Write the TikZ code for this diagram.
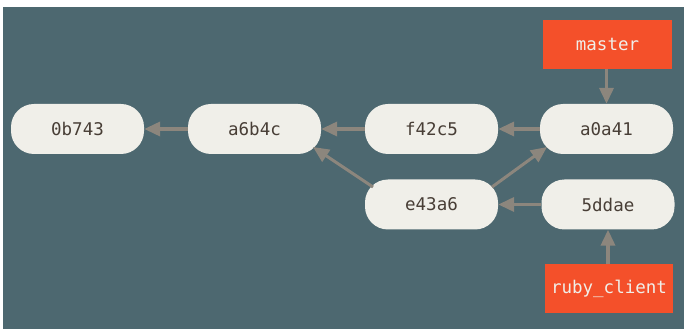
\documentclass[tikz,border=0pt]{standalone}
\usepackage{fontspec}
\setmonofont{DejaVu Sans Mono}
\usetikzlibrary{arrows.meta}
\definecolor{bgteal}{RGB}{77,104,112}
\definecolor{commitfill}{RGB}{240,239,233}
\definecolor{committext}{RGB}{72,62,54}
\definecolor{branchorange}{RGB}{244,80,42}
\definecolor{arrowgray}{RGB}{140,134,125}
\tikzset{
  commit/.style={draw=none, fill=commitfill, rounded corners=23pt, minimum width=133pt, minimum height=50pt, inner sep=0pt, text=committext, font=\ttfamily\fontsize{17.5}{21}\selectfont},
  branch/.style={draw=none, fill=branchorange, minimum width=129pt, minimum height=49pt, inner sep=0pt, text=commitfill, font=\ttfamily\fontsize{17.5}{21}\selectfont},
  conn/.style={draw=arrowgray, line width=3.5pt, -{Triangle[length=16pt,width=14pt]}},
  diag/.style={draw=arrowgray, line width=3pt, -{Triangle[length=16pt,width=14pt]}}
}
\begin{document}
\begin{tikzpicture}[x=1pt,y=1pt]
\useasboundingbox (0,0) rectangle (684,329);
\fill[white] (0,0) rectangle (684,329);
\fill[bgteal] (3,0) rectangle (684,322);
\node[commit] (c0) at (77.5,200) {0b743};
\node[commit] (c1) at (254.5,200) {a6b4c};
\node[commit] (c2) at (431.5,200) {f42c5};
\node[commit] (c3) at (606.5,200) {a0a41};
\node[commit] (c4) at (431.5,124.5) {e43a6};
\node[commit] (c5) at (608,124.5) {5ddae};
\node[branch] (master) at (607.5,284.5) {master};
\node[branch, minimum width=128pt] (ruby) at (609,40.5) {ruby\_client};
\coordinate (d1s) at ([shift={(-58.5,17.5)}]c4.center);
\coordinate (d1e) at ([shift={(58.5,-18)}]c1.center);
\coordinate (d2s) at ([shift={(60.5,17.5)}]c4.center);
\coordinate (d2e) at ([shift={(-59.5,-18)}]c3.center);
\draw[conn] (c1) -- (c0);
\draw[conn] (c2) -- (c1);
\draw[conn] (c3) -- (c2);
\draw[conn] (c5) -- (c4);
\draw[diag] (d1s) -- (d1e);
\draw[diag] (d2s) -- (d2e);
\draw[conn] (master.south -| c3) -- (c3.north);
\draw[conn] (ruby.north -| c5) -- (c5.south);
\end{tikzpicture}
\end{document}
